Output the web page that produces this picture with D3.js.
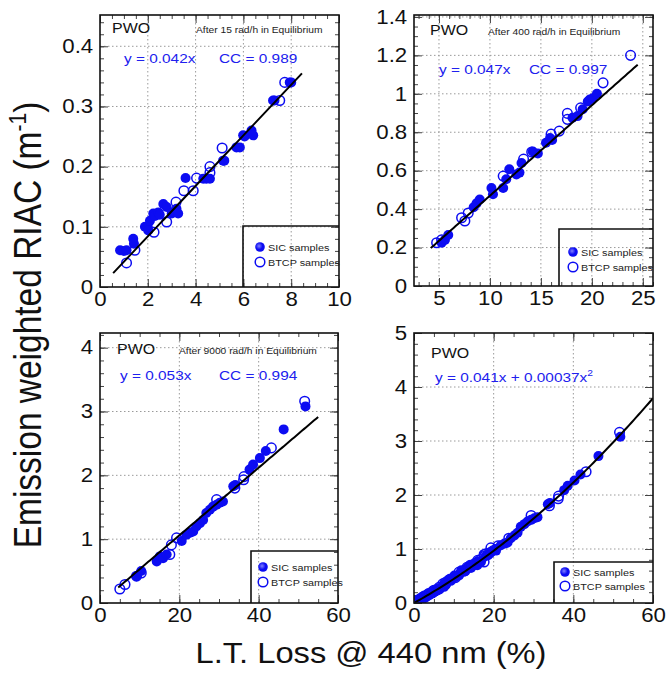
<!DOCTYPE html>
<html><head><meta charset="utf-8">
<script src="https://cdn.jsdelivr.net/npm/d3@7"></script>
<style>body{margin:0;background:#fff}svg{display:block}text{font-family:"Liberation Sans",Arial,sans-serif}</style>
</head><body><div id="chart"></div>
<script>
// ---------- DATA ----------
const p1Sic = [[0.84,0.061],[1.0,0.06],[1.11,0.061],[1.39,0.08],[1.42,0.072],[1.88,0.1],[2.0,0.1],[2.02,0.094],[2.09,0.11],[2.23,0.122],[2.3,0.118],[2.44,0.124],[2.5,0.12],[2.65,0.138],[2.79,0.133],[3.0,0.122],[3.1,0.125],[3.2,0.13],[3.27,0.122],[3.58,0.181],[4.32,0.18],[4.45,0.18],[4.6,0.18],[5.15,0.21],[5.2,0.21],[5.71,0.232],[5.85,0.232],[5.99,0.252],[6.05,0.25],[6.34,0.26],[6.41,0.252],[7.24,0.31],[7.3,0.31],[7.94,0.34],[8.0,0.34]];
const p1Btcp = [[1.11,0.04],[1.46,0.061],[2.26,0.091],[2.79,0.108],[3.18,0.141],[3.51,0.16],[3.9,0.16],[4.04,0.181],[4.6,0.2],[4.6,0.19],[5.11,0.231],[7.52,0.31],[7.73,0.34]];
const p2Sic = [[5.26,0.225],[5.59,0.24],[5.91,0.265],[8.4,0.41],[8.69,0.43],[9.0,0.45],[10.15,0.51],[10.3,0.477],[11.3,0.51],[11.6,0.555],[11.9,0.607],[12.6,0.58],[12.9,0.59],[13.1,0.64],[14.2,0.7],[14.7,0.69],[15.5,0.745],[15.9,0.77],[16.1,0.76],[18.1,0.875],[18.6,0.884],[19.1,0.92],[19.6,0.96],[19.8,0.97],[20.1,0.977],[20.5,1.0]];
const p2Btcp = [[4.77,0.225],[5.26,0.24],[7.22,0.355],[7.54,0.338],[7.87,0.38],[11.3,0.572],[13.3,0.66],[14.1,0.697],[16.0,0.79],[16.8,0.806],[17.6,0.898],[17.6,0.867],[18.9,0.927],[21.1,1.057],[23.8,1.2]];
const p3Sic = [[9.2,0.42],[10.4,0.5],[14.3,0.65],[15.1,0.73],[15.9,0.7],[16.8,0.76],[20.6,0.97],[21.8,1.07],[22.7,1.1],[23.5,1.12],[24.3,1.2],[25.2,1.25],[26.0,1.3],[26.8,1.41],[27.7,1.46],[28.5,1.51],[29.4,1.54],[30.2,1.57],[31.0,1.59],[33.6,1.83],[34.1,1.85],[37.7,2.09],[38.6,2.17],[40.3,2.27],[41.8,2.38],[46.3,2.72],[51.8,3.08]];
const p3Btcp = [[5.0,0.22],[6.3,0.29],[9.2,0.42],[10.4,0.47],[17.6,0.76],[18.0,0.91],[19.3,1.02],[29.4,1.62],[34.0,1.8],[36.2,1.93],[36.3,1.98],[43.2,2.43],[51.6,3.16]];
// panel 4 shows all samples together
const p4Sic = p1Sic.concat(p2Sic, p3Sic);
const p4Btcp = p1Btcp.concat(p2Btcp, p3Btcp);

// fit curves: y = a*x + b*x^2 over [from, to]
const fitA = [0.042, 0.047, 0.053, 0.041];
const fitB = [0, 0, 0, 0.00037];
const fitRange = [[0.55,8.45],[4.2,24.5],[4.6,55],[0.2,60]];

// axes
const xTicks = [[0,2,4,6,8,10],[5,10,15,20,25],[0,20,40,60],[0,20,40,60]];
const yTicks = [[0,0.1,0.2,0.3,0.4],[0,0.2,0.4,0.6,0.8,1,1.2,1.4],[0,1,2,3,4],[0,1,2,3,4,5]];
const xMinorStep = [0.5,1,5,5];
const yMinorStep = [0.02,0.05,0.2,0.2];
const xDomains = [[0,10],[2.55,26],[0,60],[0,60]];
const yDomains = [[0,0.452],[0,1.41],[0,4.23],[0,5]];

const titles = ["After 15 rad/h in Equilibrium","After 400 rad/h in Equilibrium","After 9000 rad/h in Equilibrium",""];
const eqTexts = ["y = 0.042x","y = 0.047x","y = 0.053x","y = 0.041x + 0.00037x"];
const ccTexts = ["CC = 0.989","CC = 0.997","CC = 0.994",""];
const legendLabels = ["SIC samples","BTCP samples"];

// ---------- LAYOUT ----------
const W = 666, H = 673, SX = 1.14;
const BLUE = "#0c0cf2", TBLUE = "#2020ee";
const frames = [
  {l:100,r:339,t:15,b:287, pwo:[112,33], title:[196,33], eq:[124,63], cc:[219,63], leg:{l:243,t:226,m1:[260,247],m2:[260,262]}},
  {l:414,r:653,t:15,b:286, pwo:[430,35], title:[488,35], eq:[439,74], cc:[529,74], leg:{l:559,t:229,m1:[573,252],m2:[573,267]}},
  {l:100,r:338,t:333,b:603, pwo:[117,354], title:[179,354], eq:[120,380], cc:[219,380], leg:{l:251,t:551,m1:[263,567],m2:[263,582]}},
  {l:414,r:653,t:333,b:603, pwo:[431,358], title:[0,0], eq:[435,382], cc:[0,0], leg:{l:554,t:562,m1:[565,572],m2:[565,586]}}
];
const sicData = [p1Sic,p2Sic,p3Sic,p4Sic];
const btcpData = [p1Btcp,p2Btcp,p3Btcp,p4Btcp];

const svg = d3.select("#chart").append("svg").attr("width",W).attr("height",H);
const defs = svg.append("defs");
const rg = defs.append("radialGradient").attr("id","ball").attr("cx","40%").attr("cy","40%").attr("r","60%");
rg.append("stop").attr("offset","0%").attr("stop-color","#8080ff");
rg.append("stop").attr("offset","60%").attr("stop-color",BLUE);

function txt(g, x, y, s, size, color, anchor) {
  return g.append("text").attr("transform",`translate(${x},${y}) scale(${SX},1)`)
    .attr("font-size",size).attr("fill",color||"#000").attr("text-anchor",anchor||"start").text(s);
}
function minorVals(dom, step){
  const out=[]; const n0=Math.ceil(dom[0]/step-1e-9), n1=Math.floor(dom[1]/step+1e-9);
  for(let i=n0;i<=n1;i++) out.push(+(i*step).toFixed(6));
  return out;
}

frames.forEach((f,i)=>{
  const x = d3.scaleLinear().domain(xDomains[i]).range([f.l,f.r]);
  const y = d3.scaleLinear().domain(yDomains[i]).range([f.b,f.t]);
  const g = svg.append("g");
  const clipId = "clip"+i;
  defs.append("clipPath").attr("id",clipId).append("rect").attr("x",f.l).attr("y",f.t).attr("width",f.r-f.l).attr("height",f.b-f.t);

  // grid
  const gg = g.append("g").attr("stroke","#9a9a9a").attr("stroke-width",1).attr("stroke-dasharray","1.5,2.5");
  xTicks[i].filter(v=>x(v)>f.l+1 && x(v)<f.r-1).forEach(v=>gg.append("line").attr("x1",x(v)).attr("x2",x(v)).attr("y1",f.t).attr("y2",f.b));
  yTicks[i].filter(v=>y(v)<f.b-1 && y(v)>f.t+1).forEach(v=>gg.append("line").attr("y1",y(v)).attr("y2",y(v)).attr("x1",f.l).attr("x2",f.r));

  // axes (ticks inside)
  const xmin = minorVals(xDomains[i], xMinorStep[i]);
  const ymin = minorVals(yDomains[i], yMinorStep[i]);
  const fmt = d3.format("~g");
  const axes = [
    [d3.axisBottom(x).tickValues(xTicks[i]).tickSize(-8).tickPadding(5).tickFormat(fmt), `translate(0,${f.b})`, true],
    [d3.axisBottom(x).tickValues(xmin).tickSize(-4).tickFormat(""), `translate(0,${f.b})`, false],
    [d3.axisTop(x).tickValues(xTicks[i]).tickSize(-8).tickFormat(""), `translate(0,${f.t})`, false],
    [d3.axisTop(x).tickValues(xmin).tickSize(-4).tickFormat(""), `translate(0,${f.t})`, false],
    [d3.axisLeft(y).tickValues(yTicks[i]).tickSize(-8).tickPadding(6).tickFormat(fmt), `translate(${f.l},0)`, true],
    [d3.axisLeft(y).tickValues(ymin).tickSize(-4).tickFormat(""), `translate(${f.l},0)`, false],
    [d3.axisRight(y).tickValues(yTicks[i]).tickSize(-8).tickFormat(""), `translate(${f.r},0)`, false],
    [d3.axisRight(y).tickValues(ymin).tickSize(-4).tickFormat(""), `translate(${f.r},0)`, false]
  ];
  axes.forEach(([ax,tr,lab])=>{
    const a = g.append("g").attr("transform",tr).call(ax);
    a.select(".domain").remove();
    a.selectAll(".tick line").attr("stroke","#444").attr("stroke-width",1);
    if(lab){
      a.selectAll(".tick text").attr("font-size",19.5).attr("fill","#111")
        .attr("font-family",'"Liberation Sans",Arial,sans-serif')
        .attr("transform",`scale(${SX},1)`);
    }
  });

  // points
  const pg = g.append("g").attr("clip-path",`url(#${clipId})`);
  pg.selectAll("circle.sic").data(sicData[i]).join("circle").attr("class","sic")
    .attr("cx",d=>x(d[0])).attr("cy",d=>y(d[1])).attr("r",5).attr("fill",BLUE);
  pg.selectAll("circle.btcp").data(btcpData[i]).join("circle").attr("class","btcp")
    .attr("cx",d=>x(d[0])).attr("cy",d=>y(d[1])).attr("r",4.8).attr("fill","none").attr("stroke",BLUE).attr("stroke-width",1.5);

  // fit line
  const xs = d3.range(0,101).map(k=>fitRange[i][0]+(fitRange[i][1]-fitRange[i][0])*k/100);
  const line = d3.line().x(d=>x(d)).y(d=>y(fitA[i]*d+fitB[i]*d*d));
  pg.append("path").datum(xs).attr("d",line).attr("fill","none").attr("stroke","#000").attr("stroke-width",2);

  // frame
  g.append("rect").attr("x",f.l).attr("y",f.t).attr("width",f.r-f.l).attr("height",f.b-f.t)
    .attr("fill","none").attr("stroke","#111").attr("stroke-width",1.6);

  // legend box
  const L = f.leg;
  g.append("path").attr("d",`M${L.l},${f.b}V${L.t}H${f.r}`).attr("fill","none").attr("stroke","#111").attr("stroke-width",1.6);
  g.append("circle").attr("cx",L.m1[0]).attr("cy",L.m1[1]).attr("r",4.8).attr("fill","url(#ball)");
  g.append("circle").attr("cx",L.m2[0]).attr("cy",L.m2[1]).attr("r",4.8).attr("fill","none").attr("stroke",BLUE).attr("stroke-width",1.5);
  txt(g, L.m1[0]+8, L.m1[1]+3.5, legendLabels[0], 9.5, "#222");
  txt(g, L.m2[0]+8, L.m2[1]+3.5, legendLabels[1], 9.5, "#222");

  // annotations
  txt(g, f.pwo[0], f.pwo[1], "PWO", 14, "#111");
  if(titles[i]) txt(g, f.title[0], f.title[1], titles[i], 9, "#222");
  const eq = txt(g, f.eq[0], f.eq[1], eqTexts[i], 13.5, TBLUE);
  if(i===3) eq.append("tspan").attr("font-size",9).attr("dy",-6).text("2");
  if(ccTexts[i]) txt(g, f.cc[0], f.cc[1], ccTexts[i], 13.5, TBLUE);
});

// axis titles
const yl = svg.append("text").attr("transform",`translate(41,325) rotate(-90) scale(1,${SX})`)
  .attr("font-size",33.5).attr("text-anchor","middle").attr("fill","#111");
yl.append("tspan").text("Emission weighted RIAC (m");
yl.append("tspan").attr("font-size",21).attr("dy",-13).text("-1");
yl.append("tspan").attr("dy",13).text(")");
svg.append("text").attr("transform",`translate(371,663) scale(1.09,1)`)
  .attr("font-size",30).attr("text-anchor","middle").attr("fill","#111").text("L.T. Loss @ 440 nm (%)");
</script></body></html>
